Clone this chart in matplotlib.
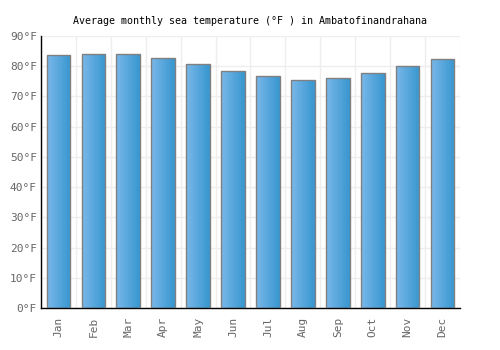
import matplotlib
matplotlib.use("Agg")
import matplotlib.pyplot as plt
import numpy as np
from matplotlib.colors import LinearSegmentedColormap

months = ["Jan", "Feb", "Mar", "Apr", "May", "Jun", "Jul", "Aug", "Sep", "Oct", "Nov", "Dec"]
temps_f = [83.6, 84.0, 84.0, 82.7, 80.7, 78.4, 76.7, 75.6, 76.0, 77.7, 80.0, 82.3]
yticks = [0, 10, 20, 30, 40, 50, 60, 70, 80, 90]
ytick_labels = [f"{v}°F" for v in yticks]
title = "Average monthly sea temperature (°F ) in Ambatofinandrahana"

plt.rcParams['font.family'] = ['DejaVu Sans Mono']

fig = plt.figure(figsize=(5, 3.5), dpi=100)
ax = fig.add_axes([0.082, 0.12, 0.838, 0.777])

x = np.arange(len(months))
bars = ax.bar(x, temps_f, width=0.68, color='none', edgecolor='#808080', linewidth=1.0, zorder=3)

cmap = LinearSegmentedColormap.from_list('g', ['#7ab8ea', '#3796cf'])
grad = np.linspace(0, 1, 256).reshape(1, -1)
for b in bars:
    x0, y0 = b.get_x(), b.get_y()
    w, h = b.get_width(), b.get_height()
    im = ax.imshow(grad, extent=[x0, x0 + w, y0, y0 + h], aspect='auto', cmap=cmap, zorder=2)
    im.set_clip_path(b)

ax.set_xlim(-0.5, len(months) - 0.5)
ax.set_ylim(0, 90)
ax.set_yticks(yticks)
ax.set_yticklabels(ytick_labels)
ax.set_xticks(x)
ax.set_xticklabels(months, rotation=90)
ax.set_xticks(np.arange(-0.5, len(months), 1), minor=True)
ax.grid(False)
ax.grid(True, which='minor', axis='x', color='#eeeeee', linewidth=1, zorder=0)
ax.grid(True, which='major', axis='y', color='#eeeeee', linewidth=1, zorder=0)
ax.tick_params(axis='both', which='both', length=0, colors='#666666', labelsize=8)
ax.tick_params(axis='x', pad=6)
ax.tick_params(axis='y', pad=3)
for s in ['top', 'right']:
    ax.spines[s].set_visible(False)
for s in ['left', 'bottom']:
    ax.spines[s].set_color('black')
    ax.spines[s].set_linewidth(1)
ax.set_axisbelow(True)
ax.set_title(title, fontsize=7.2, color='black', pad=9)

fig.savefig("out.png", dpi=100)
